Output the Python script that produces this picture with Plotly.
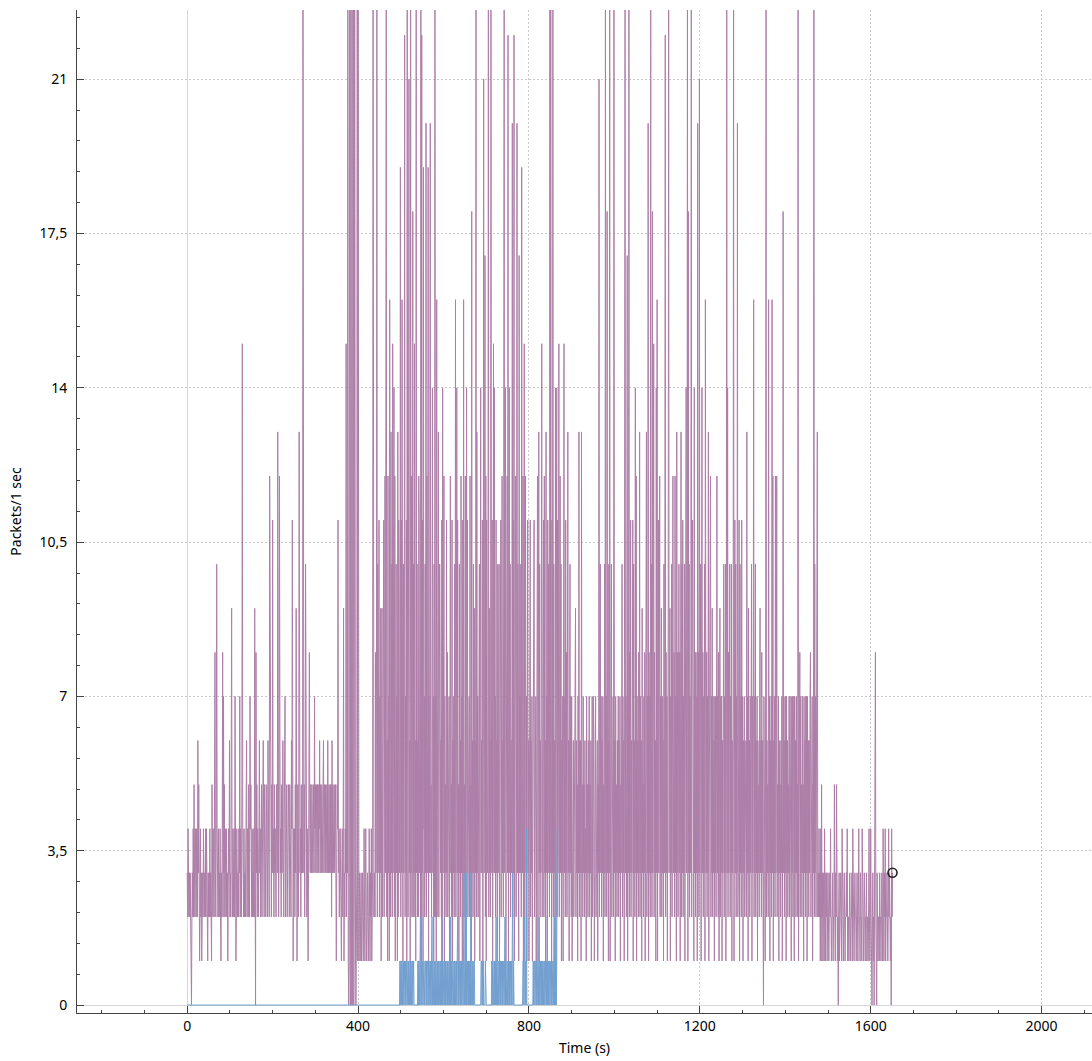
import plotly.graph_objects as go

# Packets per 1-second interval, all packets (purple), one char per second (base 36: a=10 ... p=25)
all_packets_str = [
    "3243232312", "0232425324", "3243263521", "2423123243", "2324243213",
    "2324232153", "243258324a", "4324232421", "3248273524", "3242312436",
    "2324932432", "4273124323", "243724325f", "4324232436", "2432532745",
    "3242324293", "0835243246", "3423524364", "2534253426", "342c934253",
    "b342534325", "43d524c634", "2534632457", "2435243542", "534264b314",
    "3425394135", "24d6342534", "3p43524a43", "2431358435", "4354345374",
    "5345354354", "6354353456", "3543534536", "4353453526", "3543534531",
    "354b342343", "2134239132", "43f243p102", "p10p20p03p", "03p21023p1",
    "p213212312", "3212421342", "1232124213", "24123pf232", "2837p2a36b",
    "2739159263", "b25c3bp261", "c371g42d3a", "2f36e2c15a", "371d2b935j",
    "2b3g51a36m", "273b1p62al", "361p3c25i2", "a3f261p3a2", "62cb352p1m",
    "3b1j472a3k", "2c36j1739k", "352be371a2", "p271g263d2", "5a8362b1e3",
    "6c17352b38", "26371ac352", "b16372a3g2", "6e3b251a36", "2c371b3g25",
    "3c17e3b253", "72c351i362", "a39163p2d3", "7263a19e36", "3b16l37h2c",
    "1b537p2936", "2p73b15f3e", "372b361a37", "a173b25c36", "2ap36e173c",
    "3m17e3a263", "7k2b3m163c", "26k3a51h37", "3a2j63c17f", "26c3715b36",
    "173b263715", "3ab2637193", "c17d3a2637", "f263b2c361", "d371b3a62p",
    "3p71b3p2a3", "61e37e2b36", "f27c3a1637", "16f372b382", "7d3615a372",
    "7153624379", "2635173d26", "361d352735", "2634173526", "3725361472",
    "3761537243", "6153l26a37", "2637153a2p", "372i361a3p", "173a26372p",
    "3617352637", "26371536a2", "7361ap3726", "h173p283b2", "637b1a362e",
    "3c1736283d", "2736193527", "38163d273k", "18372p3a2i", "37f28361e3",
    "g17b38c273", "927361a37m", "2837169p37", "9173a26c37", "82c371d382",
    "7a3817d2a3", "b273a169e3", "7p1i3a2738", "p2ab371e38", "28371k382l",
    "37a17e3827", "3a1g738273", "d173ac2739", "2736173726", "c372816927",
    "371637a273", "a17p3e2837", "a273a1637p", "17b3a273k2", "37b1a372b3",
    "7163726352", "d371936273", "7a1736g273", "a263716352", "7936283620",
    "73617p2635", "2g3716372g", "3c16372c36", "c253716352", "63715i3726",
    "3717362537", "2736173726", "7173627352", "p163827352", "7351736273",
    "7173626378", "2637153p2a", "37263d2324", "2314152312", "3142132312",
    "3212324212", "2312252132", "5212023122", "3214221232", "1223241221",
    "2321223142", "2123221232", "1242213221", "4221232122", "3122124212",
    "4210231202", "3821032122", "1322123214", "2132412232", "1242321204",
    "23",
]

# Filtered packets (blue): zero until blue_start seconds, then one char per second
blue_start = 497
filtered_str = [
    "0101101011", "0110101101", "1010110101", "1011000000", "0001011012",
    "0101101101", "1101011010", "1101012010", "1101010110", "1010110102",
    "0101101010", "1101011010", "2010110110", "1011012010", "1101010110",
    "1301103011", "0101010301", "1010110000", "0000000000", "0110101000",
    "0100000000", "0000001011", "0110102010", "1101101011", "0101101201",
    "0110110101", "1010130100", "0000000000", "0000000001", "1012010400",
    "0000000000", "0001011011", "0101101201", "1010101011", "0110102010",
    "1101101011", "0120103014",
]

y_tick_vals = [0, 3.5, 7, 10.5, 14, 17.5, 21]
y_tick_text = ["0", "3,5", "7", "10,5", "14", "17,5", "21"]
x_tick_vals = [0, 400, 800, 1200, 1600, 2000]

PURPLE = "#ad7fa8"
BLUE = "#729fcf"


def decode(chunks):
    return [int(c, 36) for c in "".join(chunks)]


purple_y = decode(all_packets_str)
purple_x = list(range(len(purple_y)))

blue_vals = [0] * blue_start + decode(filtered_str)
blue_x = list(range(len(blue_vals)))

fig = go.Figure()
fig.add_trace(go.Scatter(x=purple_x, y=purple_y, mode="lines",
                         line=dict(color=PURPLE, width=1), hoverinfo="skip"))
fig.add_trace(go.Scatter(x=blue_x, y=blue_vals, mode="lines",
                         line=dict(color=BLUE, width=1), hoverinfo="skip"))
fig.add_trace(go.Scatter(x=[purple_x[-1]], y=[purple_y[-1]], mode="markers",
                         marker=dict(symbol="circle-open", size=9, color="#222222",
                                     line=dict(width=1.6, color="#222222")),
                         hoverinfo="skip"))

axis_color = "#444444"
grid_color = "#c9c9c9"
zero_color = "#d6d6d6"
font = dict(family="Noto Sans", size=14, color="#000000")

fig.update_layout(
    width=1092, height=1061,
    margin=dict(l=77, r=0, t=10, b=48, autoexpand=False),
    paper_bgcolor="white", plot_bgcolor="white",
    showlegend=False,
    separators=", ",
    font=font,
    xaxis=dict(
        range=[-258, 2118],
        tickmode="array", tickvals=x_tick_vals,
        ticks="inside", ticklen=7, tickwidth=1, tickcolor=axis_color,
        showline=True, linecolor=axis_color, linewidth=1,
        showgrid=True, gridcolor=grid_color, gridwidth=1, griddash="2px,2px",
        zeroline=True, zerolinecolor=zero_color, zerolinewidth=1,
        minor=dict(dtick=100, tick0=0, ticks="inside", ticklen=3, tickcolor=axis_color, showgrid=False),
        title=dict(text="Time (s)", standoff=9, font=font),
        tickfont=font, automargin=False,
    ),
    yaxis=dict(
        range=[-0.18, 22.57],
        tickmode="array", tickvals=y_tick_vals, ticktext=y_tick_text,
        ticks="inside", ticklen=7, tickwidth=1, tickcolor=axis_color,
        showline=True, linecolor=axis_color, linewidth=1,
        showgrid=True, gridcolor=grid_color, gridwidth=1, griddash="2px,2px",
        zeroline=True, zerolinecolor=zero_color, zerolinewidth=1,
        minor=dict(dtick=0.7, tick0=0, ticks="inside", ticklen=3, tickcolor=axis_color, showgrid=False),
        title=dict(text="Packets/1 sec", standoff=14, font=font),
        tickfont=font, automargin=False, ticklabelstandoff=6,
    ),
)

fig.write_html("out.html", config={"displayModeBar": False},
               post_script="document.body.style.margin='0px';")
